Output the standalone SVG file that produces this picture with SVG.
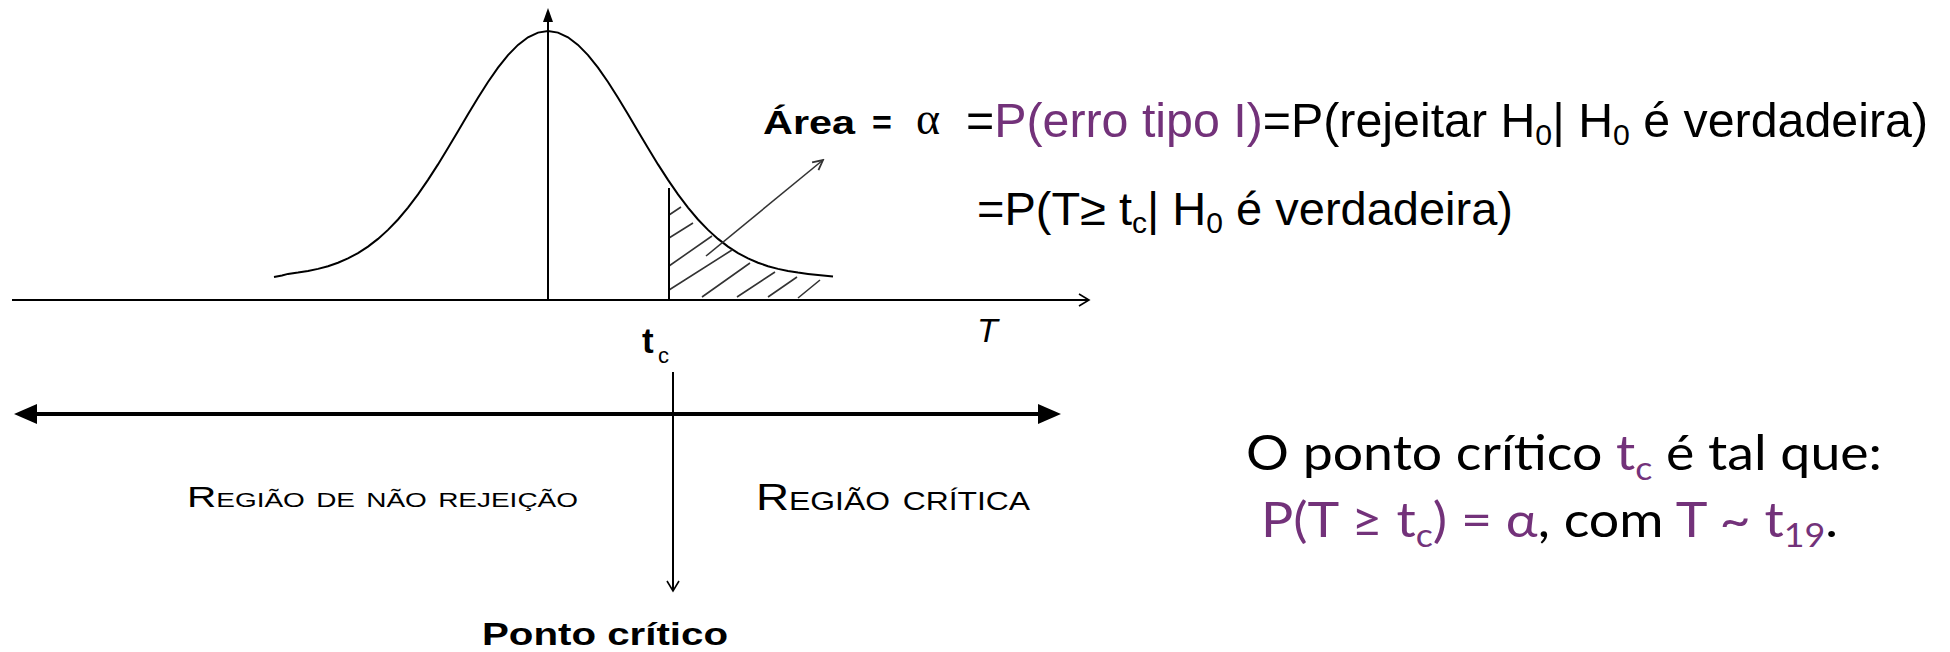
<svg xmlns="http://www.w3.org/2000/svg" width="1950" height="652" viewBox="0 0 1950 652">
<style>
.ln{stroke:#000;stroke-width:2;fill:none}
.thick{stroke:#000;stroke-width:4;fill:none}
.hatch{stroke:#333;stroke-width:1.6;fill:none}
.sans{font-family:"Liberation Sans",Arial,sans-serif;fill:#000}
.cal{font-family:Lato,"Open Sans","DejaVu Sans",sans-serif;fill:#000}
.pur{fill:#73327A}
</style>
<defs>
<marker id="openR" markerWidth="14" markerHeight="14" refX="12" refY="7" orient="auto" markerUnits="userSpaceOnUse">
<path d="M2,1 L12,7 L2,13" fill="none" stroke="#000" stroke-width="1.6"/>
</marker>
<marker id="openG" markerWidth="14" markerHeight="14" refX="12" refY="7" orient="auto" markerUnits="userSpaceOnUse">
<path d="M2,2 L12,7 L2,12" fill="none" stroke="#333" stroke-width="1.8"/>
</marker>
</defs>
<rect width="1950" height="652" fill="#fff"/>

<g id="curve">
<path class="ln" d="M274,277 L282,275.5 L288,273.9 L298,272.6 L308,271 L318,268.9 L328,266.2 L338,262.7 L348,258.4 L358,253.1 L368,246.6 L378,238.9 L388,229.9 L398,219.5 L408,207.6 L418,194.4 L428,179.9 L438,164.4 L448,148 L458,131.2 L468,114.3 L478,97.7 L488,82 L498,67.7 L508,55.1 L518,44.9 L528,37.3 L538,32.6 L548,31 L558,32.6 L568,37.3 L578,44.9 L588,55.1 L598,67.7 L608,82 L618,97.7 L628,114.3 L638,131.2 L648,148 L658,164.4 L668,179.9 L678,194.4 L688,207.6 L698,219.5 L708,229.9 L718,238.9 L728,246.6 L738,253.1 L748,258.4 L758,262.7 L768,266.2 L778,268.9 L788,271 L798,272.6 L808,273.9 L818,275 L833,276.5"/>
</g>

<g id="hatching">
<path class="hatch" d="M669,215 L681,207 M669,238 L693,223 M669,266 L712,236 M669,290 L732,250 M702,297 L750,263 M737,297 L775,272 M768,297 L797,277 M798,298 L820,280"/>
</g>

<g id="connectors">
<line class="ln" x1="12" y1="300" x2="1089" y2="300" marker-end="url(#openR)"/>
<line class="ln" x1="548" y1="300" x2="548" y2="20"/>
<path d="M548,8 L543,22 L553,22 Z" fill="#000"/>
<line class="ln" x1="669" y1="188" x2="669" y2="300"/>
<line class="hatch" x1="706" y1="256" x2="823" y2="160" stroke-width="2" marker-end="url(#openG)"/>
<line class="thick" x1="32" y1="414" x2="1043" y2="414"/>
<path d="M14,414 L37,404 L37,424 Z" fill="#000"/>
<path d="M1061,414 L1038,404 L1038,424 Z" fill="#000"/>
<line class="ln" x1="673" y1="372" x2="673" y2="591" marker-end="url(#openR)"/>
</g>

<g id="figure-labels">
<text class="sans" x="763" y="134" font-size="34" font-weight="bold" textLength="92" lengthAdjust="spacingAndGlyphs">Área</text>
<text class="sans" x="872" y="134" font-size="34" font-weight="bold">=</text>
<text x="916" y="134" font-size="46" style="font-family:'Liberation Serif',serif">α</text>
<text class="sans" x="642" y="353" font-size="35" font-weight="bold">t</text>
<text class="sans" x="658" y="363" font-size="22">c</text>
<text class="sans" x="977" y="342" font-size="34" font-style="italic">T</text>
<text class="sans" x="187" y="507" font-size="29" font-variant="small-caps" textLength="391" lengthAdjust="spacingAndGlyphs">Região de não rejeição</text>
<text class="sans" x="756" y="510" font-size="36" font-variant="small-caps" textLength="274" lengthAdjust="spacingAndGlyphs">Região crítica</text>
<text class="sans" x="482" y="645" font-size="31" font-weight="bold" textLength="246" lengthAdjust="spacingAndGlyphs">Ponto crítico</text>
</g>

<g id="formula-1">
<text class="sans" x="966" y="137" font-size="48" textLength="962" lengthAdjust="spacingAndGlyphs">=<tspan class="pur">P(erro tipo I)</tspan>=P(rejeitar H<tspan font-size="30" dy="8">0</tspan><tspan dy="-8">| H</tspan><tspan font-size="30" dy="8">0</tspan><tspan dy="-8"> é verdadeira)</tspan></text>
</g>
<g id="formula-2">
<text class="sans" x="977" y="225" font-size="47">=P(T≥ t<tspan font-size="30" dy="8">c</tspan><tspan dy="-8">| H</tspan><tspan font-size="30" dy="8">0</tspan><tspan dy="-8"> é verdadeira)</tspan></text>
</g>
<g id="note">
<text class="cal" x="1246" y="470" font-size="48" textLength="636" lengthAdjust="spacingAndGlyphs">O ponto crítico <tspan class="pur">t</tspan><tspan class="pur" font-size="32" dy="10">c</tspan><tspan dy="-10"> é tal que:</tspan></text>
<text class="cal" x="1261" y="537" font-size="48" textLength="577" lengthAdjust="spacingAndGlyphs"><tspan class="pur">P(T ≥ t</tspan><tspan class="pur" font-size="32" dy="10">c</tspan><tspan class="pur" dy="-10">) = α</tspan>, com <tspan class="pur">T ~ t</tspan><tspan class="pur" font-size="32" dy="10">19</tspan><tspan dy="-10">.</tspan></text>
</g>
</svg>
